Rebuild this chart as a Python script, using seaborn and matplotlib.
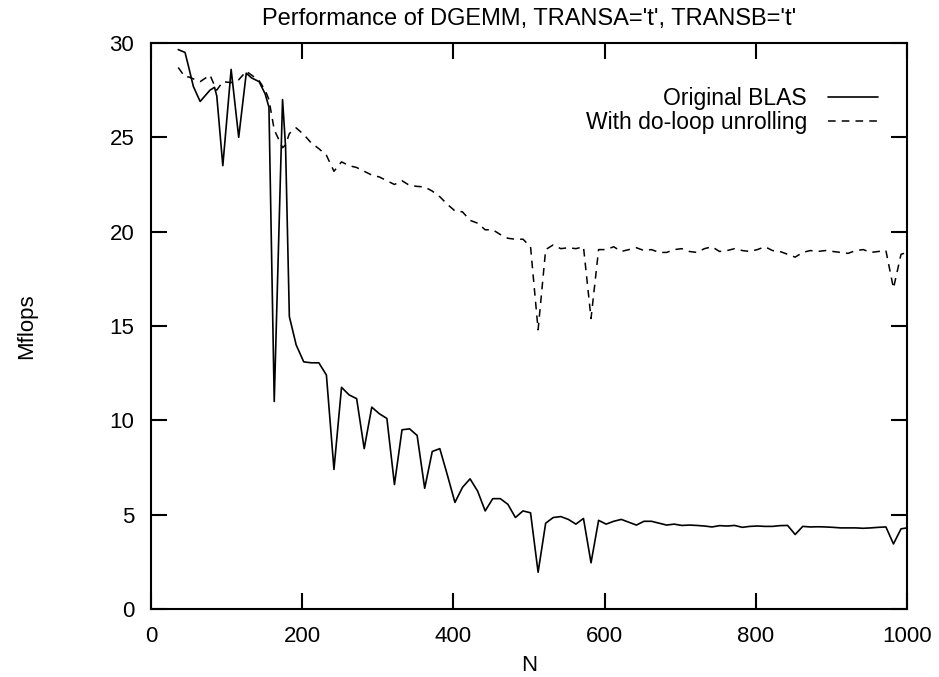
import matplotlib
matplotlib.use("Agg")
import matplotlib.pyplot as plt
import seaborn as sns
import pandas as pd

# matrix sizes N (irregular at the start, then steps of 10)
n_early = [36, 45, 50, 56, 65, 78, 84, 87, 95, 106, 116, 126, 133, 143, 151, 156, 163, 174, 178, 183]
n_values = n_early + list(range(192, 1000, 10)) + [1000]

original_blas = [
    29.65, 29.5, 28.7, 27.7, 26.9, 27.5, 27.65, 27.2, 23.5, 28.6,
    25.0, 28.4, 28.15, 27.95, 27.3, 26.6, 11.0, 27.0, 24.5, 15.5,
    14.0, 13.1, 13.05, 13.05, 12.4, 7.4, 11.75, 11.35, 11.15, 8.5,
    10.7, 10.35, 10.1, 6.6, 9.5, 9.55, 9.2, 6.4, 8.35, 8.5,
    7.1, 5.65, 6.45, 6.9, 6.25, 5.2, 5.85, 5.85, 5.55, 4.85,
    5.2, 5.1, 1.95, 4.55, 4.85, 4.9, 4.75, 4.5, 4.8, 2.45,
    4.7, 4.5, 4.65, 4.75, 4.6, 4.45, 4.65, 4.65, 4.55, 4.45,
    4.5, 4.43, 4.45, 4.43, 4.4, 4.35, 4.42, 4.4, 4.43, 4.33,
    4.38, 4.4, 4.38, 4.38, 4.42, 4.43, 3.95, 4.38, 4.35, 4.36,
    4.35, 4.33, 4.3, 4.3, 4.3, 4.28, 4.3, 4.33, 4.35, 3.45,
    4.25, 4.3,
]

unrolled = [
    28.7, 28.2, 28.2, 28.1, 27.95, 28.3, 27.75, 27.5, 27.95, 27.9,
    28.05, 28.5, 28.3, 28.0, 27.5, 27.0, 25.4, 24.45, 24.6, 25.2,
    25.5, 25.15, 24.7, 24.4, 24.05, 23.2, 23.7, 23.5, 23.4, 23.2,
    23.0, 22.9, 22.7, 22.5, 22.7, 22.45, 22.4, 22.37, 22.15, 21.85,
    21.45, 21.1, 21.05, 20.6, 20.45, 20.1, 20.1, 19.85, 19.65, 19.6,
    19.6, 19.2, 14.8, 19.05, 19.3, 19.1, 19.15, 19.1, 19.2, 15.4,
    19.05, 19.05, 19.2, 18.95, 19.05, 19.15, 19.0, 19.05, 18.9, 18.9,
    19.05, 19.1, 18.95, 18.9, 19.1, 19.2, 18.95, 19.0, 19.1, 19.0,
    18.95, 19.05, 19.2, 19.0, 18.95, 18.8, 18.65, 18.9, 19.0, 18.95,
    19.0, 18.95, 18.9, 18.85, 19.0, 19.05, 18.9, 18.95, 19.0, 17.0,
    18.8, 18.9,
]

df = pd.DataFrame({'N': n_values, 'original': original_blas, 'unrolled': unrolled})

sns.set_theme(style='ticks')
plt.rcParams['font.family'] = ['Liberation Sans', 'DejaVu Sans']
plt.rcParams['text.color'] = 'black'
plt.rcParams['axes.labelcolor'] = 'black'

fig = plt.figure(figsize=(9.39, 6.77), dpi=100)
ax = fig.add_axes([0.1608, 0.1004, 0.8052, 0.8361])

sns.lineplot(data=df, x='N', y='original', ax=ax, color='black', linewidth=1.2,
             label='Original BLAS')
sns.lineplot(data=df, x='N', y='unrolled', ax=ax, color='black', linewidth=1.1,
             label='With do-loop unrolling')
ax.lines[1].set_dashes((5, 4))

ax.set_xlim(0, 1000)
ax.set_ylim(0, 30)
ax.set_xticks(range(0, 1001, 200))
ax.set_yticks(range(0, 31, 5))

for spine in ax.spines.values():
    spine.set_linewidth(1.5)
    spine.set_color('black')
ax.tick_params(direction='in', length=11.5, width=1.5, labelsize=16, pad=12,
               top=True, right=True, colors='black')

ax.set_title("Performance of DGEMM, TRANSA='t', TRANSB='t'", fontsize=17, pad=13,
             color='black')
ax.set_xlabel('N', fontsize=16, labelpad=6, color='black')
ax.set_ylabel('Mflops', fontsize=16, color='black')
ax.yaxis.set_label_coords(-0.151, 0.5)

leg = ax.legend(loc='upper right', bbox_to_anchor=(0.9616, 0.922), frameon=False,
                markerfirst=False, fontsize=16.5, handlelength=2.2, handletextpad=0.9,
                labelspacing=0.05, borderpad=0, borderaxespad=0)
leg.get_lines()[1].set_dashes((5, 4))
for t in leg.get_texts():
    t.set_color('black')

fig.savefig('out.png', dpi=100)
